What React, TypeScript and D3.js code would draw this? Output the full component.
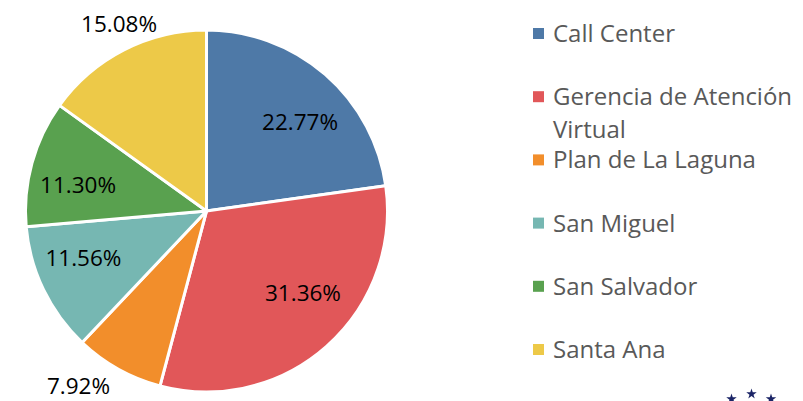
import React from "react";
import * as d3 from "d3";

const categories = [
  "Call Center",
  "Gerencia de Atención Virtual",
  "Plan de La Laguna",
  "San Miguel",
  "San Salvador",
  "Santa Ana",
];
const values = [22.77, 31.36, 7.92, 11.56, 11.3, 15.08];
const labels = ["22.77%", "31.36%", "7.92%", "11.56%", "11.30%", "15.08%"];
const legendLines = [
  ["Call Center"],
  ["Gerencia de Atención", "Virtual"],
  ["Plan de La Laguna"],
  ["San Miguel"],
  ["San Salvador"],
  ["Santa Ana"],
];
const colors = ["#4E79A7", "#E15759", "#F28E2B", "#76B7B2", "#59A14F", "#EDC948"];

// label placement style (degrees offset from slice mid-angle, radius in px)
const labelAngleOffset = [5.3, -8.1, 7.1, 4.9, -3.9, 2.1];
const labelRadius = [129.4, 126.6, 216.5, 131.7, 131.1, 206.5];

const W = 803;
const H = 401;
const cx = 206.5;
const cy = 211;
const R = 181;

export default function App() {
  const pie = d3
    .pie<number>()
    .sort(null)
    .value((d) => d);
  const arcs = pie(values);
  const arcGen = d3.arc<d3.PieArcDatum<number>>().innerRadius(0).outerRadius(R);

  const legendX = 533;
  const legendTextX = 553;
  const legendY0 = 42;
  const legendStep = 63.2;
  const wrapStep = 33;

  const star = d3.symbol().type(d3.symbolStar).size(34)();
  const stars = [
    [731.5, 399],
    [751.5, 394],
    [771, 399],
  ];

  return (
    <div style={{ position: "absolute", left: 0, top: 0, width: W, height: H, background: "#fff" }}>
      <svg width={W} height={H} style={{ display: "block" }}>
        <rect width={W} height={H} fill="#fff" />
        <g transform={`translate(${cx},${cy})`}>
          {arcs.map((a, i) => (
            <path
              key={i}
              d={arcGen(a) || ""}
              fill={colors[i]}
              stroke="#fff"
              strokeWidth={3}
              strokeLinejoin="round"
            />
          ))}
          {arcs.map((a, i) => {
            const mid = (a.startAngle + a.endAngle) / 2 + (labelAngleOffset[i] * Math.PI) / 180;
            const r = labelRadius[i];
            const x = r * Math.sin(mid);
            const y = -r * Math.cos(mid);
            return (
              <text
                key={i}
                x={x}
                y={y}
                dy="0.36em"
                textAnchor="middle"
                fontFamily="'Open Sans', sans-serif"
                fontSize={22.5}
                fill="#000"
              >
                {labels[i]}
              </text>
            );
          })}
        </g>
        <g>
          {legendLines.map((lines, i) => {
            const by = legendY0 + i * legendStep;
            return (
              <g key={i}>
                <rect x={legendX} y={by - 14} width={11} height={11} fill={colors[i]} />
                {lines.map((ln, j) => (
                  <text
                    key={j}
                    x={legendTextX}
                    y={by + j * wrapStep}
                    fontFamily="'Open Sans', sans-serif"
                    fontSize={24}
                    fill="#595959"
                  >
                    {ln}
                  </text>
                ))}
              </g>
            );
          })}
        </g>
        <g fill="#1B2466">
          {stars.map((s, i) => (
            <path key={i} d={star || ""} transform={`translate(${s[0]},${s[1]})`} />
          ))}
        </g>
      </svg>
    </div>
  );
}
